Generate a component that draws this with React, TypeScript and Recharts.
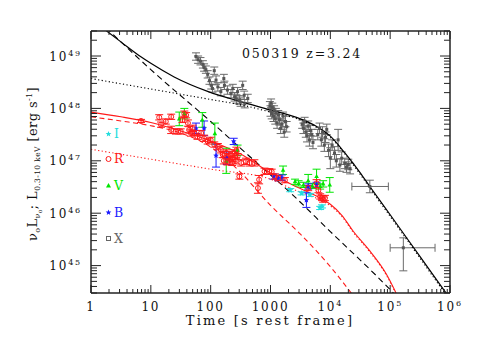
import React from 'react';
import { ComposedChart, Line, Scatter, XAxis, YAxis, ErrorBar, Customized } from 'recharts';

// ---------- axis values ----------
const xMajor = [1, 10, 100, 1000, 1e4, 1e5, 1e6];
const yMajor = [1e45, 1e46, 1e47, 1e48, 1e49];
const minorSteps = [2, 3, 4, 5, 6, 7, 8, 9];
const xDomain = [1, 1e6];
const yDomain = [3e44, 3e49];

// ---------- data: [log10 t (s), log10 L (erg/s), error (dex)] ----------
const xrayPoints = [
  [1.755, 48.99, 0.07], [1.79, 48.93, 0.07], [1.83, 48.9, 0.07], [1.87, 48.84, 0.07], [1.89, 48.78, 0.07],
  [1.92, 48.74, 0.07], [1.95, 48.65, 0.07], [1.98, 48.53, 0.07], [2.01, 48.44, 0.07], [2.03, 48.38, 0.07],
  [2.06, 48.72, 0.07], [2.09, 48.54, 0.08], [2.12, 48.41, 0.08], [2.17, 48.32, 0.08], [2.22, 48.57, 0.08],
  [2.23, 48.44, 0.08], [2.28, 48.35, 0.08], [2.34, 48.28, 0.08], [2.37, 48.38, 0.08], [2.4, 48.22, 0.08],
  [2.43, 48.18, 0.08], [2.45, 48.32, 0.08], [2.48, 48.16, 0.08], [2.5, 48.12, 0.08], [2.535, 48.44, 0.08],
  [2.56, 48.25, 0.08], [2.57, 48.09, 0.08], [2.62, 48.19, 0.08],
  [2.99, 48.05, 0.08], [3.0, 47.95, 0.1], [3.01, 48.1, 0.08], [3.02, 47.9, 0.1], [3.03, 48.02, 0.08],
  [3.05, 47.85, 0.1], [3.06, 47.97, 0.08], [3.08, 47.8, 0.1], [3.09, 47.92, 0.08], [3.11, 47.72, 0.1],
  [3.13, 47.88, 0.08], [3.15, 47.78, 0.1], [3.17, 47.62, 0.1], [3.19, 47.7, 0.1], [3.21, 47.85, 0.08],
  [3.23, 47.55, 0.1], [3.25, 47.75, 0.1], [3.27, 47.65, 0.1],
  [3.53, 47.7, 0.08], [3.55, 47.62, 0.1], [3.57, 47.75, 0.08], [3.59, 47.55, 0.1], [3.61, 47.48, 0.12],
  [3.63, 47.66, 0.1], [3.65, 47.4, 0.12], [3.67, 47.58, 0.1], [3.69, 47.5, 0.1], [3.71, 47.35, 0.12],
  [3.79, 47.5, 0.1], [3.82, 47.62, 0.1], [3.85, 47.4, 0.12], [3.87, 47.55, 0.1], [3.9, 47.3, 0.12],
  [3.92, 47.45, 0.1], [3.94, 47.6, 0.1],
  [3.97, 47.2, 0.12], [4.0, 47.05, 0.2], [4.03, 47.3, 0.1], [4.07, 47.15, 0.12], [4.1, 47.0, 0.12],
  [4.13, 47.4, 0.2], [4.16, 46.92, 0.12], [4.19, 47.05, 0.12], [4.24, 46.95, 0.1], [4.27, 46.88, 0.1],
  [4.3, 46.93, 0.1], [4.33, 46.85, 0.1],
];
// [log t, log L, log t low, log t high, err low (dex), err high (dex)]
const xrayLatePoints = [
  [4.66, 46.51, 4.36, 4.97, 0.12, 0.12],
  [5.22, 45.34, 5.0, 5.75, 0.44, 0.19],
];
const rPoints = [
  [0.836, 47.76, 0.03], [1.14, 47.83, 0.05], [1.17, 47.69, 0.05], [1.25, 47.75, 0.05], [1.34, 47.84, 0.05],
  [1.34, 47.59, 0.07], [1.42, 47.56, 0.05], [1.5, 47.56, 0.05], [1.53, 47.78, 0.05], [1.56, 47.9, 0.05],
  [1.59, 47.87, 0.05], [1.62, 47.72, 0.06], [1.64, 47.59, 0.06], [1.67, 47.53, 0.06], [1.7, 47.62, 0.06],
  [1.73, 47.53, 0.05], [1.78, 47.46, 0.05], [1.84, 47.53, 0.05], [1.89, 47.43, 0.06], [1.95, 47.37, 0.05],
  [2.0, 47.4, 0.05], [2.06, 47.31, 0.05], [2.12, 47.27, 0.06], [2.17, 47.21, 0.06], [2.2, 47.12, 0.06],
  [2.22, 47.0, 0.06], [2.26, 47.15, 0.06], [2.28, 46.98, 0.06], [2.29, 47.08, 0.06], [2.32, 47.02, 0.06],
  [2.34, 47.12, 0.06], [2.36, 46.97, 0.06], [2.37, 47.05, 0.06], [2.4, 47.15, 0.06], [2.42, 47.0, 0.06],
  [2.43, 47.2, 0.06], [2.45, 47.08, 0.06], [2.51, 46.96, 0.06], [2.59, 46.99, 0.06], [2.65, 46.96, 0.06],
  [2.73, 46.96, 0.06], [2.48, 46.7, 0.05], [2.81, 46.64, 0.08], [2.79, 46.48, 0.1], [2.9, 46.8, 0.06],
  [2.98, 46.8, 0.05], [3.02, 46.79, 0.05], [3.075, 46.7, 0.05], [3.13, 46.67, 0.05], [3.24, 46.63, 0.05],
  [3.63, 46.48, 0.05], [3.77, 46.57, 0.07], [3.8, 46.44, 0.05], [3.83, 46.32, 0.05], [3.86, 46.29, 0.05],
  [3.88, 46.26, 0.05], [3.91, 46.29, 0.05],
];
const vPoints = [
  [1.475, 47.8, 0.13], [1.56, 47.9, 0.1], [1.86, 47.78, 0.14], [2.07, 47.52, 0.2], [2.26, 47.0, 0.24],
  [2.45, 47.2, 0.1], [3.21, 46.82, 0.08], [3.41, 46.6, 0.05], [3.47, 46.57, 0.05], [3.55, 46.54, 0.05],
  [3.63, 46.62, 0.12], [3.7, 46.52, 0.05], [3.77, 46.7, 0.14], [3.83, 46.51, 0.05], [3.88, 46.56, 0.06],
  [3.99, 46.54, 0.14],
];
const bPoints = [
  [1.755, 47.62, 0.1], [1.89, 47.62, 0.14], [2.09, 47.1, 0.22], [2.27, 47.05, 0.12], [2.385, 47.37, 0.06],
  [3.05, 46.7, 0.05], [3.13, 46.67, 0.05], [3.19, 46.68, 0.05], [3.6, 46.25, 0.14], [3.63, 46.51, 0.05],
  [3.77, 46.54, 0.05],
];
const iPoints = [
  [3.33, 46.44, 0.03], [3.52, 46.38, 0.03], [3.66, 46.35, 0.03], [3.83, 46.1, 0.03], [3.86, 46.13, 0.03],
];

// ---------- model curves: [log10 t, log10 L] ----------
const blackSolid = [
  [0.2, 49.53], [0.5, 49.27], [0.84, 48.98], [1.0, 48.86], [1.39, 48.6], [1.96, 48.32], [2.5, 48.13],
  [3.0, 47.97], [3.5, 47.8], [3.75, 47.67], [4.0, 47.47], [4.25, 47.14], [4.5, 46.77], [4.66, 46.51],
  [5.0, 45.97], [5.5, 45.17], [5.92, 44.5], [6.0, 44.37],
];
const blackDashed = [
  [0.25, 49.54], [1.0, 48.74], [2.0, 47.75], [2.9, 46.83], [3.2, 46.53], [4.0, 45.65], [5.0, 44.54], [5.1, 44.42],
];
const blackDotted = [
  [0, 48.57], [1.0, 48.37], [1.5, 48.27], [2.0, 48.17], [2.5, 48.07], [3.0, 47.93], [3.5, 47.78], [3.75, 47.65],
  [4.0, 47.45], [4.25, 47.12], [4.5, 46.74], [4.66, 46.48], [5.0, 45.94], [5.5, 45.14], [5.92, 44.47], [6.0, 44.35],
];
const redSolid = [
  [0, 47.93], [0.5, 47.84], [1.0, 47.73], [1.5, 47.57], [2.0, 47.38], [2.5, 47.13], [3.0, 46.77], [3.33, 46.56],
  [3.83, 46.29], [4.0, 46.17], [4.2, 45.95], [4.38, 45.66], [4.66, 45.28], [4.94, 44.83], [5.08, 44.52], [5.15, 44.35],
];
const redDashed = [
  [0, 47.84], [0.5, 47.76], [1.0, 47.67], [1.5, 47.53], [1.84, 47.37], [2.22, 47.08], [2.5, 46.78], [3.0, 46.15],
  [3.5, 45.6], [4.0, 44.98], [4.4, 44.4],
];
const redDotted = [
  [0, 47.22], [1.0, 47.03], [2.0, 46.84], [3.0, 46.65], [3.33, 46.48], [3.83, 46.25], [4.0, 46.14], [4.2, 45.93],
  [4.38, 45.64], [4.66, 45.26], [4.94, 44.81], [5.08, 44.5], [5.15, 44.33],
];

const legendItems = [
  { label: 'I', color: '#22dddd', shape: 'star' },
  { label: 'R', color: '#ff1a1a', shape: 'circle' },
  { label: 'V', color: '#00e600', shape: 'triangle' },
  { label: 'B', color: '#1a1aff', shape: 'star' },
  { label: 'X', color: '#666666', shape: 'square' },
];

const titleText = '050319 z=3.24';

// ---------- build tables ----------
const p10 = (v: number) => Math.pow(10, v);
const toPts = (arr: number[][]) =>
  arr.map(([lt, ll, e]) => ({ t: p10(lt), L: p10(ll), e: [p10(ll) - p10(ll - e), p10(ll + e) - p10(ll)] }));
const toLine = (arr: number[][]) => arr.map(([lt, ll]) => ({ t: p10(lt), L: p10(ll) }));
const lateData = xrayLatePoints.map(([lt, ll, tl, th, el, eh]) => ({
  t: p10(lt), L: p10(ll),
  ex: [p10(lt) - p10(tl), p10(th) - p10(lt)],
  ey: [p10(ll) - p10(ll - el), p10(ll + eh) - p10(ll)],
}));

const xTicks: number[] = [];
xMajor.forEach((m, i) => {
  xTicks.push(m);
  if (i < xMajor.length - 1) minorSteps.forEach((k) => xTicks.push(k * m));
});
const yTicks: number[] = [];
[3, 4, 5, 6, 7, 8, 9].forEach((k) => yTicks.push(k * 1e44));
yMajor.forEach((m, i) => {
  yTicks.push(m);
  if (i < yMajor.length - 1) minorSteps.forEach((k) => yTicks.push(k * m));
});
yTicks.push(2e49, 3e49 * 0.9999);

const FONT = "'DejaVu Serif', serif";
const AX = '#222';

const isMajor = (v: number) => {
  const lg = Math.log10(v);
  return Math.abs(lg - Math.round(lg)) < 1e-6;
};

const makeTick = (side: 'bottom' | 'top' | 'left' | 'right') => (props: any) => {
  const { x, y, payload } = props;
  const v = payload.value;
  const major = isMajor(v);
  const n = Math.round(Math.log10(v));
  const len = major ? 8 : 4;
  let line;
  if (side === 'bottom') line = <line x1={x} x2={x} y1={y} y2={y - len} stroke={AX} strokeWidth={1} />;
  else if (side === 'top') line = <line x1={x} x2={x} y1={y} y2={y + len} stroke={AX} strokeWidth={1} />;
  else if (side === 'left') line = <line x1={x} x2={x + len + 2} y1={y} y2={y} stroke={AX} strokeWidth={1} />;
  else line = <line x1={x} x2={x - len - 2} y1={y} y2={y} stroke={AX} strokeWidth={1} />;
  let label = null;
  if (major && side === 'bottom') {
    label = (
      <text x={x} y={y + 18} textAnchor="middle" fontSize={12} fontFamily={FONT} letterSpacing={1.8} fill="#111">
        {n < 4 ? String(Math.round(v)) : (<>10<tspan dy={-5} fontSize={8}>{n}</tspan></>)}
      </text>
    );
  }
  if (major && side === 'left') {
    label = (
      <text x={x - 9} y={y + 4.5} textAnchor="end" fontSize={12} fontFamily={FONT} letterSpacing={1.8} fill="#111">
        10<tspan dy={-5} fontSize={8}>{n}</tspan>
      </text>
    );
  }
  return <g>{line}{label}</g>;
};

const GreySquare = (p: any) => <rect x={p.cx - 1.5} y={p.cy - 1.5} width={3} height={3} fill="#555" />;
const RedCircle = (p: any) => <circle cx={p.cx} cy={p.cy} r={2.5} fill="none" stroke="#ff1a1a" strokeWidth={1} />;
const GreenTri = (p: any) => (
  <path d={`M${p.cx},${p.cy - 2.5} L${p.cx + 2.3},${p.cy + 1.6} L${p.cx - 2.3},${p.cy + 1.6} Z`} fill="#00e600" />
);
const starPath = (cx: number, cy: number, r: number) => {
  let d = '';
  for (let i = 0; i < 10; i++) {
    const a = -Math.PI / 2 + (i * Math.PI) / 5;
    const rr = i % 2 === 0 ? r : r * 0.45;
    d += `${i === 0 ? 'M' : 'L'}${cx + rr * Math.cos(a)},${cy + rr * Math.sin(a)}`;
  }
  return d + 'Z';
};
const BlueStar = (p: any) => <path d={starPath(p.cx, p.cy, 3)} fill="#1a1aff" />;
const CyanStar = (p: any) => <path d={starPath(p.cx, p.cy, 3.2)} fill="#22dddd" />;

const Decor = () => (
  <g>
    <text x={234} y={49.5} fontSize={12.5} fontFamily={FONT} letterSpacing={1.8} fill="#111">{titleText}</text>
    <text x={262} y={317} textAnchor="middle" fontSize={13} fontFamily={FONT} letterSpacing={2.2} fill="#111">
      Time [s rest frame]
    </text>
    <text x={29} y={156} transform="rotate(-90, 29, 156)" textAnchor="middle" fontSize={13} fontFamily={FONT} letterSpacing={0.4} fill="#111">
      ν<tspan dy={3} fontSize={8}>o</tspan>
      <tspan dy={-3}>L</tspan><tspan dy={3} fontSize={8}>ν</tspan><tspan dy={2} fontSize={6}>o</tspan>
      <tspan dy={-5}>; L</tspan><tspan dy={3} fontSize={7.5}>0.3-10 keV</tspan>
      <tspan dy={-3}> [erg s</tspan><tspan dy={-5} fontSize={8}>-1</tspan><tspan dy={5}>]</tspan>
    </text>
    {legendItems.map((it, i) => {
      const ys = [129, 154, 181, 207.5, 233.5];
      const cy = ys[i];
      const cx = 100.5;
      let sym;
      if (it.shape === 'star') sym = <path d={starPath(cx, cy - 3, 3)} fill={it.color} />;
      else if (it.shape === 'circle') sym = <circle cx={cx} cy={cy - 3} r={2.5} fill="none" stroke={it.color} strokeWidth={1} />;
      else if (it.shape === 'triangle') sym = <path d={`M${cx},${cy - 6} L${cx + 2.5},${cy - 1.5} L${cx - 2.5},${cy - 1.5} Z`} fill={it.color} />;
      else sym = <rect x={cx - 2} y={cy - 5} width={4} height={4} fill="none" stroke={it.color} strokeWidth={1} />;
      return (
        <g key={it.label}>
          {sym}
          <text x={106} y={cy + 1} fontSize={12.5} fontFamily={FONT} fill={it.color}>{it.label}</text>
        </g>
      );
    })}
  </g>
);

export default function App() {
  return (
    <ComposedChart width={475} height={344} margin={{ top: 13, right: 23, bottom: 0, left: 0 }}>
      <XAxis xAxisId={0} dataKey="t" type="number" scale="log" domain={xDomain} allowDataOverflow ticks={xTicks}
        interval={0} tickSize={0} tickMargin={0} tick={makeTick('bottom')} height={59}
        axisLine={{ stroke: AX, strokeWidth: 1.5 }} tickLine={false} />
      <XAxis xAxisId="top" orientation="top" dataKey="t" type="number" scale="log" domain={xDomain} allowDataOverflow
        ticks={xTicks} interval={0} tickSize={0} tickMargin={0} tick={makeTick('top')} height={10}
        axisLine={{ stroke: AX, strokeWidth: 1.5 }} tickLine={false} />
      <YAxis yAxisId={0} dataKey="L" type="number" scale="log" domain={yDomain} allowDataOverflow ticks={yTicks}
        interval={0} tickSize={0} tickMargin={0} tick={makeTick('left')} width={83}
        axisLine={{ stroke: AX, strokeWidth: 1.5 }} tickLine={false} />
      <YAxis yAxisId="right" orientation="right" dataKey="L" type="number" scale="log" domain={yDomain} allowDataOverflow
        ticks={yTicks} interval={0} tickSize={0} tickMargin={0} tick={makeTick('right')} width={10}
        axisLine={{ stroke: AX, strokeWidth: 1.5 }} tickLine={false} />

      <Scatter data={toPts(xrayPoints)} shape={GreySquare} isAnimationActive={false}>
        <ErrorBar dataKey="e" direction="y" width={4} stroke="#6a6a6a" strokeWidth={1} />
      </Scatter>
      <Scatter data={lateData} shape={GreySquare} isAnimationActive={false}>
        <ErrorBar dataKey="ey" direction="y" width={4} stroke="#6a6a6a" strokeWidth={1} />
        <ErrorBar dataKey="ex" direction="x" width={4} stroke="#6a6a6a" strokeWidth={1} />
      </Scatter>

      <Line data={toLine(blackDotted)} dataKey="L" type="monotone" stroke="#000" strokeWidth={1.1} strokeDasharray="1.2 2.4" dot={false} isAnimationActive={false} />
      <Line data={toLine(blackDashed)} dataKey="L" type="monotone" stroke="#000" strokeWidth={1.1} strokeDasharray="6 4" dot={false} isAnimationActive={false} />
      <Line data={toLine(blackSolid)} dataKey="L" type="monotone" stroke="#000" strokeWidth={1.2} dot={false} isAnimationActive={false} />
      <Line data={toLine(redDotted)} dataKey="L" type="monotone" stroke="#ff1a1a" strokeWidth={1.1} strokeDasharray="1.2 2.4" dot={false} isAnimationActive={false} />
      <Line data={toLine(redDashed)} dataKey="L" type="monotone" stroke="#ff1a1a" strokeWidth={1.1} strokeDasharray="5 3.5" dot={false} isAnimationActive={false} />
      <Line data={toLine(redSolid)} dataKey="L" type="monotone" stroke="#ff1a1a" strokeWidth={1.1} dot={false} isAnimationActive={false} />

      <Scatter data={toPts(iPoints)} shape={CyanStar} isAnimationActive={false}>
        <ErrorBar dataKey="e" direction="y" width={4} stroke="#22dddd" strokeWidth={1} />
      </Scatter>
      <Scatter data={toPts(vPoints)} shape={GreenTri} isAnimationActive={false}>
        <ErrorBar dataKey="e" direction="y" width={4} stroke="#00e600" strokeWidth={1} />
      </Scatter>
      <Scatter data={toPts(bPoints)} shape={BlueStar} isAnimationActive={false}>
        <ErrorBar dataKey="e" direction="y" width={4} stroke="#1a1aff" strokeWidth={1} />
      </Scatter>
      <Scatter data={toPts(rPoints)} shape={RedCircle} isAnimationActive={false}>
        <ErrorBar dataKey="e" direction="y" width={4} stroke="#ff1a1a" strokeWidth={1} />
      </Scatter>

      <Customized component={Decor} />
    </ComposedChart>
  );
}
